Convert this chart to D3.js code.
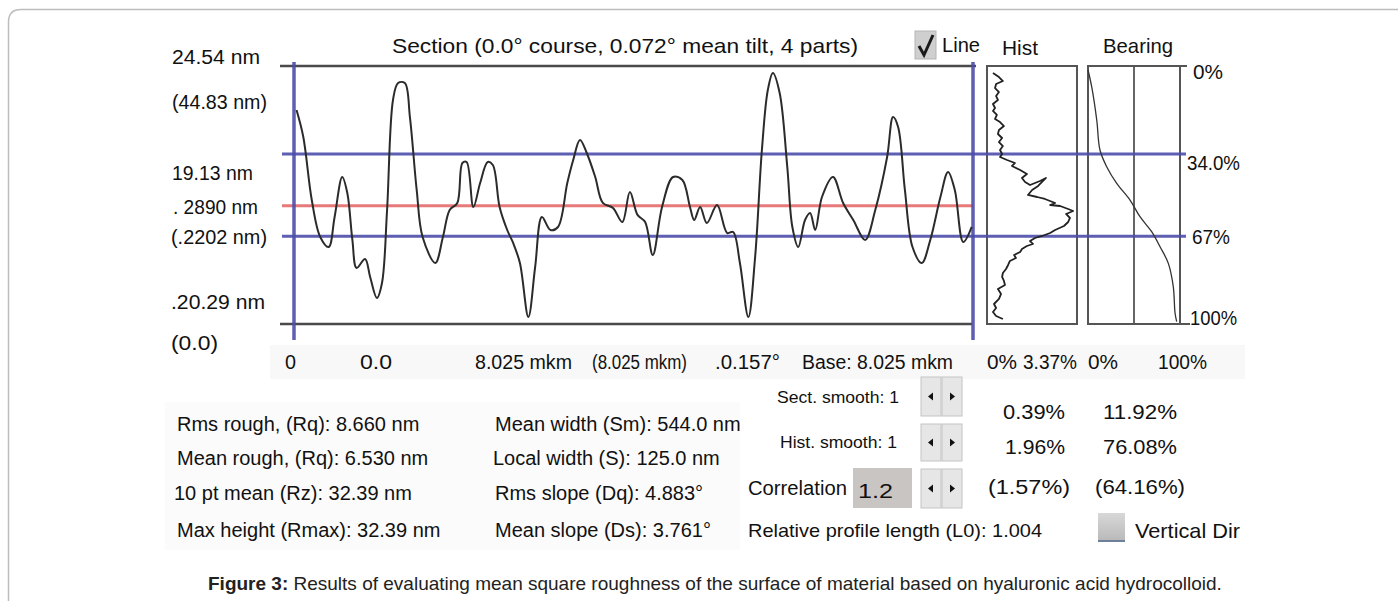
<!DOCTYPE html>
<html><head><meta charset="utf-8">
<script src="https://cdn.jsdelivr.net/npm/d3@7/dist/d3.min.js"></script>
<style>
html,body{margin:0;padding:0;background:#fff;}
svg{display:block;font-family:"Liberation Sans",Arial,sans-serif;}
</style></head>
<body>
<svg id="c" width="1398" height="601"></svg>
<script>
// ---- data ----
const profileDist = [0.03,0.11,0.21,0.31,0.41,0.48,0.57,0.63,0.69,0.74,0.84,0.90,0.98,1.04,1.10,1.17,1.23,1.31,1.37,1.45,1.52,1.67,1.76,1.84,1.93,1.99,2.04,2.12,2.20,2.29,2.35,2.43,2.52,2.59,2.67,2.77,2.85,2.93,3.03,3.12,3.23,3.30,3.38,3.46,3.56,3.65,3.77,3.88,3.97,4.06,4.15,4.24,4.35,4.48,4.59,4.68,4.73,4.80,4.88,5.00,5.12,5.19,5.27,5.37,5.45,5.53,5.60,5.66,5.74,5.83,5.89,5.96,6.04,6.10,6.16,6.24,6.37,6.49,6.61,6.75,6.87,7.01,7.08,7.14,7.22,7.31,7.42,7.52,7.64,7.73,7.81,7.91,8.01];
const profileHeight = [16.78,12.13,1.26,-5.12,-6.84,-1.67,5.23,2.47,-5.63,-10.46,-8.91,-12.01,-15.63,-13.05,-0.46,18.51,21.44,21.44,15.57,2.99,-5.12,-9.60,-5.12,-0.46,0.75,7.64,7.82,0.06,4.20,7.82,7.30,0.06,-3.91,-6.15,-9.60,-18.91,-10.29,-1.67,-3.91,-3.39,4.20,8.16,11.61,9.37,5.23,0.75,-0.12,-2.53,2.64,-1.30,-2.53,-8.22,0.06,5.23,4.71,0.06,-2.18,0.06,-2.70,0.40,-4.43,-4.25,-9.60,-18.91,-8.56,9.88,20.23,23.16,19.71,6.95,-3.39,-6.84,-2.18,-0.98,-3.91,1.78,5.23,0.75,-2.18,-5.63,-0.46,8.68,15.57,13.85,2.99,-6.84,-9.60,-5.63,1.78,6.09,2.99,-5.98,-3.39];
const histPct = [0.19,0.42,0.57,0.31,0.27,0.42,0.31,0.38,0.19,0.27,0.19,0.34,0.27,0.46,0.61,0.42,0.38,0.54,0.42,0.57,0.46,0.54,0.46,0.73,1.03,0.92,1.23,1.49,1.30,1.42,1.61,1.99,2.22,1.92,1.69,1.53,1.88,2.18,2.57,2.38,2.76,3.07,3.26,2.99,3.14,3.07,2.91,2.57,2.38,2.07,1.80,1.61,1.72,1.49,1.30,1.23,1.00,1.07,0.84,0.77,0.69,0.57,0.54,0.61,0.65,0.38,0.50,0.42,0.23,0.31,0.19,0.31,0.57];
const histHeight = [23.16,22.47,21.78,21.26,20.57,19.88,19.19,18.51,17.82,17.13,16.61,15.92,15.23,14.71,14.02,13.33,12.64,11.95,11.26,10.57,9.88,9.20,8.68,8.16,7.64,7.13,6.44,5.75,5.06,4.37,3.85,4.54,5.06,3.68,2.99,2.13,1.78,1.44,0.75,0.40,0.23,-0.29,-0.63,-1.15,-1.84,-2.53,-3.22,-3.91,-4.43,-4.94,-5.29,-5.81,-6.32,-6.67,-7.18,-7.70,-8.22,-8.74,-9.25,-9.94,-10.63,-11.32,-12.01,-12.70,-13.39,-14.08,-14.94,-15.80,-16.67,-17.36,-18.05,-18.74,-19.25];
const bearingPct = [0,4.0,9.5,13.0,20.3,31.2,45.7,56.5,69.2,78.3,87.3,92.7,94.6,96.4];
const bearingHeight = [23.68,20.80,15.06,9.88,7.01,4.14,1.26,-1.62,-4.20,-6.79,-9.66,-13.68,-18.22,-19.72];
const heightRange = [-20.29, 24.54];      // nm
const lengthRange = [0, 8.025];           // mkm
const histRange = [0, 3.37];              // %
const bearingRange = [0, 100];            // %
const refLines = {upper: 9.2, mean: 0.289, lower: -5.0};
const leftLabels = ["24.54 nm","(44.83 nm)","19.13 nm",". 2890 nm","(.2202 nm)",".20.29 nm","(0.0)"];
const bottomLabels = ["0","0.0","8.025 mkm","(8.025 mkm)",".0.157°","Base:  8.025 mkm","0%","3.37%","0%","100%"];
const bearingLabels = ["0%","34.0%","67%","100%"];
const statsCol1 = ["Rms rough, (Rq): 8.660 nm","Mean rough, (Rq): 6.530 nm","10 pt mean (Rz): 32.39 nm","Max height (Rmax): 32.39 nm"];
const statsCol2 = ["Mean width (Sm): 544.0 nm","Local width (S): 125.0 nm","Rms slope (Dq): 4.883°","Mean slope (Ds): 3.761°"];
const pctCol1 = ["0.39%","1.96%","(1.57%)"];
const pctCol2 = ["11.92%","76.08%","(64.16%)"];

// ---- drawing ----
const svg = d3.select("#c");
const y = d3.scaleLinear().domain(heightRange).range([325, 65]);
const x = d3.scaleLinear().domain(lengthRange).range([294, 973]);
const xh = d3.scaleLinear().domain(histRange).range([988, 1076]);
const xb = d3.scaleLinear().domain(bearingRange).range([1088, 1180]);

// page frame
svg.append("path").attr("d","M8.5,601 L8.5,22 Q8.5,9.5 21,9.5 L1398,9.5")
  .attr("fill","none").attr("stroke","#bdbdbd").attr("stroke-width",1.5);

// light background bands
svg.append("rect").attr("x",270).attr("y",345).attr("width",975).attr("height",34).attr("fill","#f8f8f8");
svg.append("rect").attr("x",165).attr("y",402).attr("width",575).attr("height",148).attr("fill","#fbfbfb");

function label(t, x0, x1, yc, size, opts={}) {
  const el = svg.append("text").attr("x", x0).attr("y", yc)
    .attr("dominant-baseline","central").attr("font-size", size)
    .attr("fill", opts.fill || "#111").text(t);
  if (x1 != null) el.attr("textLength", x1 - x0).attr("lengthAdjust","spacingAndGlyphs");
  if (opts.weight) el.attr("font-weight", opts.weight);
  return el;
}

// title row
label("Section (0.0° course,  0.072°  mean tilt, 4 parts)", 392, 858, 45, 21);
const cb = svg.append("g");
cb.append("rect").attr("x",915).attr("y",31).attr("width",21).attr("height",28).attr("fill","#cfcfcf").attr("stroke","#b5b5b5");
cb.append("path").attr("d","M919,46 L924,55 L933,35").attr("fill","none").attr("stroke","#1a1a1a").attr("stroke-width",3);
label("Line", 942, 980, 44, 21);
label("Hist", 1002, 1038, 47, 21);
label("Bearing", 1103, 1173, 45, 21);

// main plot frame
const frameC = "#4a4a4a";
svg.append("line").attr("x1",280).attr("x2",976).attr("y1",y(heightRange[1])+1).attr("y2",y(heightRange[1])+1)
  .attr("stroke",frameC).attr("stroke-width",2.5);
svg.append("line").attr("x1",280).attr("x2",972).attr("y1",y(heightRange[0])-1).attr("y2",y(heightRange[0])-1)
  .attr("stroke",frameC).attr("stroke-width",2.5);

// hist & bearing boxes
function box(x0,x1){
  svg.append("rect").attr("x",x0).attr("y",y(heightRange[1])+1).attr("width",x1-x0)
    .attr("height",y(heightRange[0])-y(heightRange[1])-2).attr("fill","none").attr("stroke","#555").attr("stroke-width",2);
}
box(xh(0)-1, xh(histRange[1])+1);
box(xb(0), xb(100));
svg.append("line").attr("x1",xb(50)).attr("x2",xb(50)).attr("y1",y(heightRange[1])+1).attr("y2",y(heightRange[0])-1)
  .attr("stroke","#555").attr("stroke-width",1.8);
// ticks to bearing labels
svg.append("line").attr("x1",xb(100)).attr("x2",xb(100)+7).attr("y1",y(heightRange[1])+1).attr("y2",y(heightRange[1])+1).attr("stroke","#555").attr("stroke-width",2);
svg.append("line").attr("x1",xb(100)).attr("x2",xb(100)+10).attr("y1",y(heightRange[0])-1).attr("y2",y(heightRange[0])-1).attr("stroke","#555").attr("stroke-width",2);

// reference lines
const blue = "#4d4dab";
[refLines.upper, refLines.lower].forEach(v => {
  svg.append("line").attr("x1",282).attr("x2",1186).attr("y1",y(v)).attr("y2",y(v))
    .attr("stroke",blue).attr("stroke-width",3).attr("opacity",0.9);
});
svg.append("line").attr("x1",282).attr("x2",973).attr("y1",y(refLines.mean)).attr("y2",y(refLines.mean))
  .attr("stroke","#e56b6b").attr("stroke-width",3).attr("opacity",0.9);

// vertical blue bounds
[lengthRange[0], lengthRange[1]].forEach(v => {
  svg.append("line").attr("x1",x(v)).attr("x2",x(v)).attr("y1",62).attr("y2",340)
    .attr("stroke",blue).attr("stroke-width",3.5).attr("opacity",0.9);
});

// profile
const prof = profileDist.map((d,i)=>[d, profileHeight[i]]);
svg.append("path").datum(prof)
  .attr("d", d3.line().x(d=>x(d[0])).y(d=>y(d[1])).curve(d3.curveCatmullRom.alpha(0.5)))
  .attr("fill","none").attr("stroke","#2b2b2b").attr("stroke-width",2);

// histogram
const hist = histPct.map((d,i)=>[d, histHeight[i]]);
svg.append("path").datum(hist)
  .attr("d", d3.line().x(d=>xh(d[0])).y(d=>y(d[1])))
  .attr("fill","none").attr("stroke","#222").attr("stroke-width",1.8).attr("stroke-linejoin","round");

// bearing curve
const bear = bearingPct.map((d,i)=>[d, bearingHeight[i]]);
svg.append("path").datum(bear)
  .attr("d", d3.line().x(d=>xb(d[0])).y(d=>y(d[1])).curve(d3.curveCatmullRom.alpha(0.5)))
  .attr("fill","none").attr("stroke","#333").attr("stroke-width",1.3);

// left labels
const leftPos = [[172,260,57],[172,267,102],[172,253,173],[173,258,207],[171,267,237],[171,265,302],[171,218,343]];
leftLabels.forEach((t,i)=>label(t, leftPos[i][0], leftPos[i][1], leftPos[i][2], 20));

// bottom axis labels
const botPos = [[285,296],[360,392],[475,572],[592,687],[715,780],[802,953],[987,1017],[1023,1077],[1088,1118],[1158,1207]];
bottomLabels.forEach((t,i)=>label(t, botPos[i][0], botPos[i][1], 362, 20));

// bearing labels
const bearVals = [heightRange[1], refLines.upper, refLines.lower, heightRange[0]];
const bearOff = [[1193,1223,7],[1187,1240,9],[1192,1230,1],[1190,1237,-7]];
bearingLabels.forEach((t,i)=>label(t, bearOff[i][0], bearOff[i][1], y(bearVals[i])+bearOff[i][2], 20));

// stats
const rowsY = [424, 458, 493, 530];
statsCol1.forEach((t,i)=>label(t, i===2?174:177, null, rowsY[i], 20));
statsCol2.forEach((t,i)=>label(t, i===1?493:495, null, rowsY[i], 20));

// controls
label("Sect. smooth: 1", 777, 899, 397, 17);
label("Hist. smooth: 1", 780, 897, 442, 17);
label("Correlation", 748, 847, 488, 20);
svg.append("rect").attr("x",853).attr("y",468).attr("width",59).attr("height",40).attr("fill","#c9c5c2");
label("1.2", 858, 893, 490, 21);
const btnRows = [[377,39],[424,37],[469,39]];
btnRows.forEach(([by,bh])=>{
  [921,942].forEach((bx,k)=>{
    const g = svg.append("g");
    g.append("rect").attr("x",bx).attr("y",by).attr("width",20).attr("height",bh)
      .attr("fill","#e6e6e6").attr("stroke","#c4c4c4").attr("stroke-width",1);
    const cy = by+bh/2, cx = bx+10;
    const d = k===0 ? `M${cx+2},${cy-4} L${cx-3},${cy} L${cx+2},${cy+4} Z` : `M${cx-2},${cy-4} L${cx+3},${cy} L${cx-2},${cy+4} Z`;
    g.append("path").attr("d",d).attr("fill","#111");
  });
});
const pctY = [412, 447, 487];
const pc1 = [[1003,1065],[1005,1065],[988,1070]];
const pc2 = [[1103,1177],[1103,1177],[1095,1185]];
pctCol1.forEach((t,i)=>label(t, pc1[i][0], pc1[i][1], pctY[i], 20));
pctCol2.forEach((t,i)=>label(t, pc2[i][0], pc2[i][1], pctY[i], 20));
label("Relative profile length (L0):  1.004", 748, 1042, 530, 19);
const grad = svg.append("defs").append("linearGradient").attr("id","cbg").attr("x1",0).attr("x2",0).attr("y1",0).attr("y2",1);
grad.append("stop").attr("offset","0%").attr("stop-color","#d8d8d8");
grad.append("stop").attr("offset","100%").attr("stop-color","#b9b9b9");
svg.append("rect").attr("x",1098).attr("y",513).attr("width",27).attr("height",28).attr("fill","url(#cbg)");
svg.append("line").attr("x1",1098).attr("x2",1125).attr("y1",541).attr("y2",541).attr("stroke","#6e7f99").attr("stroke-width",2);
label("Vertical Dir", 1135, 1240, 530, 21);

// caption
const cap = svg.append("text").attr("x",208).attr("y",583).attr("dominant-baseline","central")
  .attr("font-size",19).attr("fill","#222");
cap.append("tspan").attr("font-weight","bold").text("Figure 3:");
cap.append("tspan").text(" Results of evaluating mean square roughness of the surface of material based on hyaluronic acid hydrocolloid.");
</script>
</body></html>
